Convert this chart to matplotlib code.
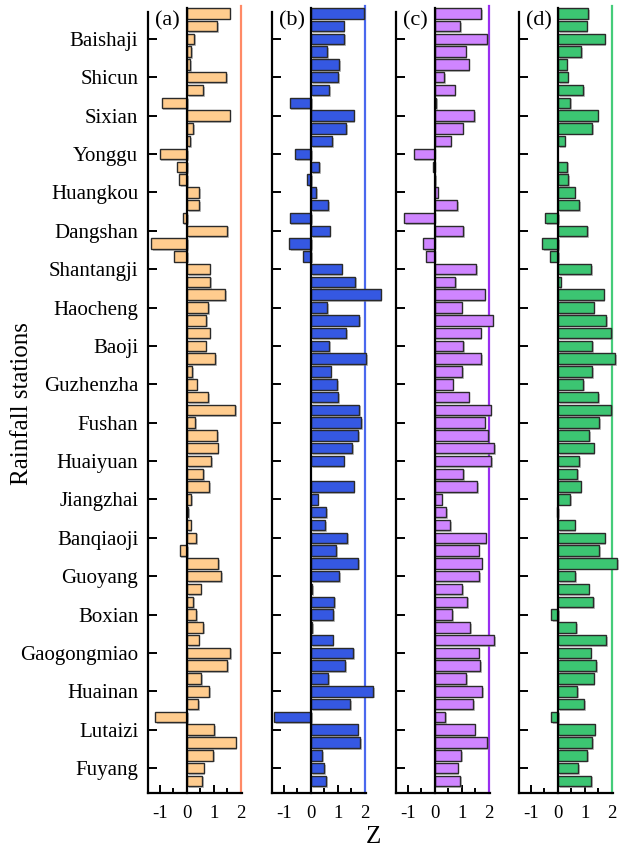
import numpy as np
import matplotlib
matplotlib.use("Agg")
import matplotlib.pyplot as plt
import matplotlib.patheffects as pe
from matplotlib.ticker import FixedLocator

plt.rcParams["font.family"] = ["Liberation Serif", "DejaVu Serif"]
plt.rcParams["axes.unicode_minus"] = False

# Station labels (every third bar, top to bottom)
stations = ["Baishaji", "Shicun", "Sixian", "Yonggu", "Huangkou", "Dangshan",
            "Shantangji", "Haocheng", "Baoji", "Guzhenzha", "Fushan", "Huaiyuan",
            "Jiangzhai", "Banqiaoji", "Guoyang", "Boxian", "Gaogongmiao",
            "Huainan", "Lutaizi", "Fuyang"]
label_index = [2 + 3 * k for k in range(len(stations))]

# Z values for the 61 bars of each panel, top to bottom
z_a = [1.58, 1.11, 0.28, 0.15, 0.12, 1.44, 0.59, -0.94, 1.58, 0.22,
       0.11, -1.01, -0.37, -0.30, 0.44, 0.46, -0.16, 1.48, -1.33, -0.48,
       0.84, 0.86, 1.41, 0.77, 0.72, 0.84, 0.69, 1.04, 0.19, 0.36,
       0.77, 1.78, 0.31, 1.12, 1.14, 0.90, 0.59, 0.81, 0.17, 0.04,
       0.14, 0.33, -0.27, 1.17, 1.26, 0.51, 0.22, 0.35, 0.59, 0.43,
       1.60, 1.49, 0.53, 0.83, 0.41, -1.19, 1.01, 1.80, 0.98, 0.62,
       0.57]
z_b = [1.98, 1.21, 1.23, 0.59, 1.04, 1.00, 0.68, -0.79, 1.58, 1.31,
       0.78, -0.58, 0.31, -0.14, 0.19, 0.65, -0.79, 0.69, -0.80, -0.28,
       1.14, 1.64, 2.58, 0.61, 1.78, 1.29, 0.68, 2.04, 0.73, 0.98,
       1.01, 1.79, 1.86, 1.74, 1.54, 1.21, np.nan, 1.58, 0.25, 0.55,
       0.54, 1.33, 0.93, 1.75, 1.04, 0.05, 0.86, 0.81, 0.05, 0.80,
       1.56, 1.28, 0.65, 2.30, 1.44, -1.35, 1.73, 1.83, 0.40, 0.48,
       0.56]
z_c = [1.73, 0.95, 1.93, 1.15, 1.26, 0.35, 0.74, 0.07, 1.46, 1.04,
       0.59, -0.78, -0.07, 0.02, 0.11, 0.83, -1.14, 1.07, -0.44, -0.33,
       1.54, 0.75, 1.85, 1.00, 2.15, 1.70, 1.05, 1.72, 1.02, 0.67,
       1.26, 2.07, 1.85, 1.97, 2.19, 2.09, 1.05, 1.56, 0.26, 0.44,
       0.58, 1.89, 1.63, 1.74, 1.65, 1.01, 1.20, 0.65, 1.30, 2.19,
       1.63, 1.67, 1.16, 1.77, 1.42, 0.38, 1.48, 1.93, 0.99, 0.85,
       0.94]
z_d = [1.12, 1.06, 1.73, 0.85, 0.32, 0.36, 0.93, 0.46, 1.47, 1.28,
       0.25, np.nan, 0.33, 0.38, 0.62, 0.77, -0.48, 1.09, -0.59, -0.28,
       1.22, 0.10, 1.69, 1.32, 1.78, 1.98, 1.28, 2.12, 1.26, 0.93,
       1.48, 1.98, 1.54, 1.16, 1.32, 0.79, 0.70, 0.84, 0.44, -0.04,
       0.62, 1.73, 1.54, 2.20, 0.64, 1.14, 1.31, -0.26, 0.67, 1.79,
       1.21, 1.40, 1.32, 0.70, 0.96, -0.26, 1.36, 1.28, 1.09, 0.74,
       1.22]

panels = ["(a)", "(b)", "(c)", "(d)"]
series = [z_a, z_b, z_c, z_d]
bar_colors = ["#FFCC8E", "#3558E2", "#CF85FF", "#3CC572"]
line_colors = ["#FF8A66", "#4A68EE", "#9A2EF0", "#45CC7A"]
threshold = 2.0

n = len(z_a)
pos = np.arange(n)[::-1]          # top bar at the highest position
ylo, yhi = -0.95, n - 1 + 0.1

fig = plt.figure(figsize=(6.19, 8.48), dpi=100)
lefts = [148, 272, 395.7, 519]
W, H = 619.0, 848.0

shadow = [pe.SimplePatchShadow(offset=(1.3, -1.3), shadow_rgbFace="0.5", alpha=0.5),
          pe.Normal()]

for k, (lab, z) in enumerate(zip(panels, series)):
    ax = fig.add_axes([lefts[k] / W, 1 - 793 / H, 94 / W, (793 - 12) / H])
    bars = ax.barh(pos, z, height=0.82, color=bar_colors[k], edgecolor="#2a2a2a",
                   linewidth=1.0, clip_on=False, zorder=3)
    for b in bars:
        b.set_path_effects(shadow)
    # zero line and Z threshold line
    ax.plot([0, 0], [ylo, n - 1 + 0.42], color="black", lw=1.6, clip_on=False, zorder=4)
    ax.plot([threshold, threshold], [ylo, n - 1 + 0.6], color=line_colors[k], lw=1.6,
            clip_on=False, zorder=2)

    ax.set_xlim(-1.44, 2.04)
    ax.set_ylim(ylo, yhi)
    for s in ["top", "right"]:
        ax.spines[s].set_visible(False)
    for s in ["left", "bottom"]:
        ax.spines[s].set_linewidth(1.6)

    ax.xaxis.set_major_locator(FixedLocator([-1, 0, 1, 2]))
    ax.xaxis.set_minor_locator(FixedLocator([-0.5, 0.5, 1.5]))
    ax.set_xticklabels(["-1", "0", "1", "2"])
    ax.tick_params(axis="x", which="major", direction="in", length=6, width=1.4,
                   labelsize=13.5, pad=9)
    ax.tick_params(axis="x", which="minor", direction="in", length=3.5, width=1.4)

    ax.set_yticks([pos[i] for i in label_index])
    ax.tick_params(axis="y", direction="in", length=6.5, width=1.4, labelsize=15, pad=7)
    if k == 0:
        ax.set_yticklabels(stations)
    else:
        ax.set_yticklabels([])

    fig.text((lefts[k] + 7) / W, 1 - 21 / H, lab, fontsize=16, ha="left", va="center")

fig.text(22 / W, 1 - 404 / H, "Rainfall stations", fontsize=18, rotation=90,
         ha="center", va="center")
fig.text(373 / W, 1 - 837 / H, "Z", fontsize=18, ha="center", va="center")

fig.savefig("out.png", dpi=100)
